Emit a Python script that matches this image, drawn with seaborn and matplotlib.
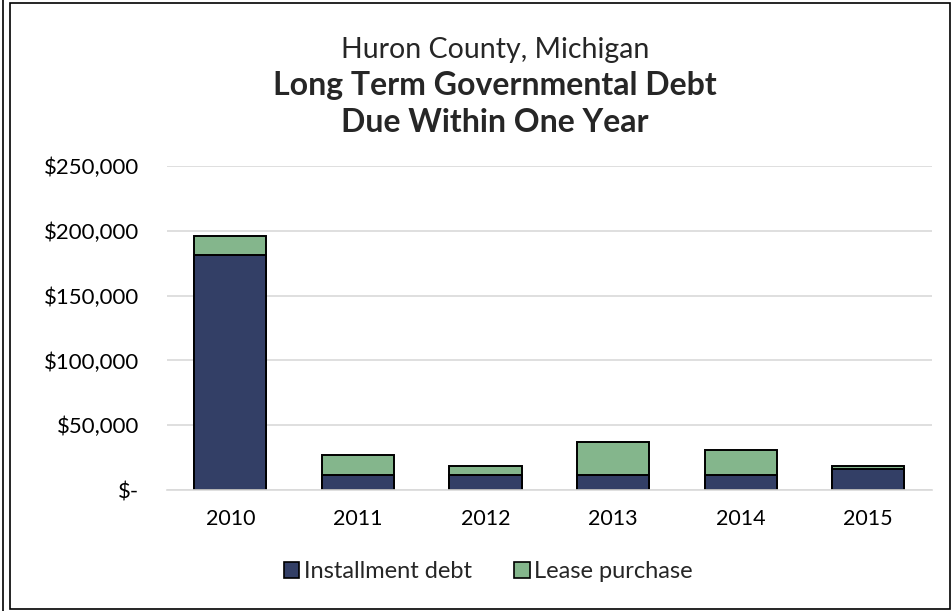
import matplotlib
matplotlib.use("Agg")
import matplotlib.pyplot as plt
import seaborn as sns
import pandas as pd
from matplotlib.patches import Rectangle, Patch
from matplotlib.lines import Line2D
from matplotlib.ticker import FuncFormatter

years = ["2010", "2011", "2012", "2013", "2014", "2015"]
installment_debt = [181500, 11600, 11600, 11600, 11600, 16200]
lease_purchase = [14500, 15600, 7000, 25400, 19300, 2500]
series_names = ["Installment debt", "Lease purchase"]
colors = ["#333F66", "#84B68C"]

sns.set_theme(style="white")
plt.rcParams["font.family"] = ["Lato", "DejaVu Sans"]

df = pd.DataFrame({"year": years, "inst": installment_debt,
                   "total": [a + b for a, b in zip(installment_debt, lease_purchase)]})

fig = plt.figure(figsize=(9.52, 6.11), dpi=100)
ax = fig.add_axes([0.175, 0.198, 0.804, 0.530])

sns.barplot(data=df, x="year", y="total", color=colors[1], width=0.565,
            edgecolor="black", linewidth=1.4, saturation=1, ax=ax)
sns.barplot(data=df, x="year", y="inst", color=colors[0], width=0.565,
            edgecolor="black", linewidth=1.4, saturation=1, ax=ax)

ax.set_ylim(0, 250000)
ax.set_yticks([0, 50000, 100000, 150000, 200000, 250000])
ax.yaxis.set_major_formatter(FuncFormatter(lambda v, p: "$-" if v == 0 else f"${v:,.0f}"))
ax.grid(axis="y", color="#D9D9D9", linewidth=1.2)
ax.set_axisbelow(True)
for s in ["top", "right", "left"]:
    ax.spines[s].set_visible(False)
ax.spines["bottom"].set_color("#D9D9D9")
ax.spines["bottom"].set_linewidth(1.2)
ax.set_xlabel("")
ax.set_ylabel("")
ax.tick_params(axis="y", labelsize=16, colors="black", length=0, pad=20)
ax.tick_params(axis="x", labelsize=15.5, colors="black", length=0, pad=14)

fig.text(0.52, 0.905, "Huron County, Michigan", ha="center", va="baseline", fontsize=20.5)
fig.text(0.52, 0.845, "Long Term Governmental Debt", ha="center", va="baseline",
         fontsize=23, fontweight="bold")
fig.text(0.52, 0.784, "Due Within One Year", ha="center", va="baseline",
         fontsize=23, fontweight="bold")

handles = [Patch(facecolor=colors[i], edgecolor="black", linewidth=1.2, label=series_names[i])
           for i in range(2)]
fig.legend(handles=handles, loc="center", bbox_to_anchor=(0.513, 0.064), ncol=2,
           frameon=False, fontsize=17, handlelength=0.65, handleheight=0.65,
           handletextpad=0.2, columnspacing=1.8)

# outer frame
fig.patches.append(Rectangle((10 / 952, 2 / 611), 940 / 952, 606 / 611,
                             transform=fig.transFigure, fill=False,
                             edgecolor="black", linewidth=1.2))
fig.lines.append(Line2D([3 / 952, 3 / 952], [0, 1], transform=fig.transFigure,
                        color="black", linewidth=1.2))

fig.savefig("out.png", dpi=100, facecolor="white")
